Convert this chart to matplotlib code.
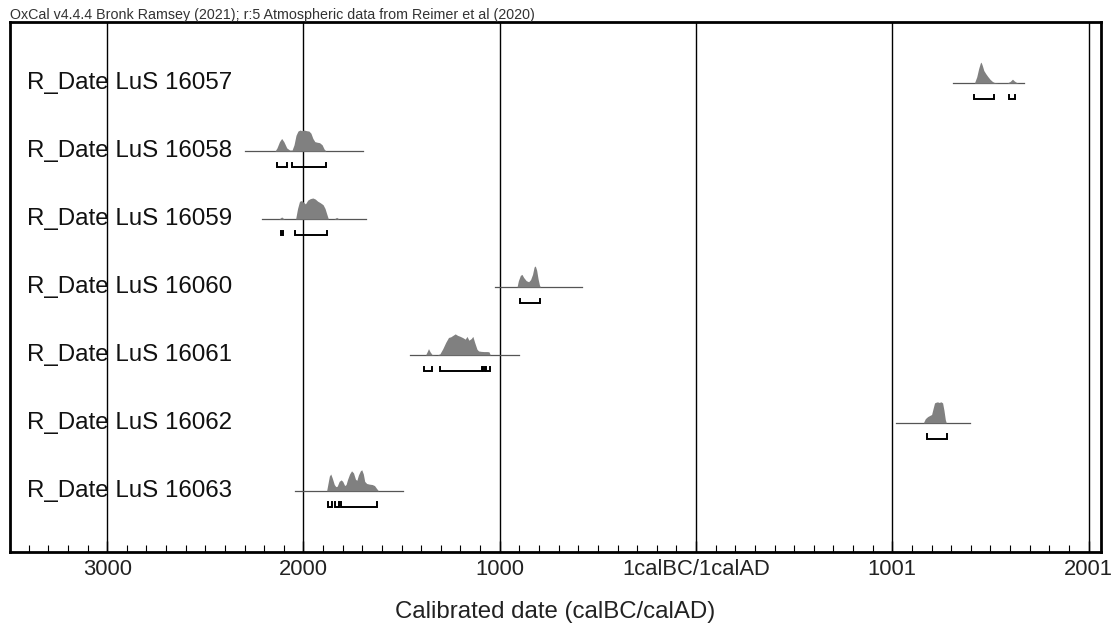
import matplotlib
matplotlib.use("Agg")
import matplotlib.pyplot as plt
from matplotlib.ticker import FixedLocator, MultipleLocator

plt.rcParams['font.family'] = ['Liberation Sans', 'DejaVu Sans']

# ---------------- data ----------------
labels = ["R_Date LuS 16057", "R_Date LuS 16058", "R_Date LuS 16059",
          "R_Date LuS 16060", "R_Date LuS 16061", "R_Date LuS 16062",
          "R_Date LuS 16063"]

# extent of the thin horizontal line of each date (years, BC negative)
line_ranges = [(1307, 1671), (-2298, -1696), (-2213, -1681), (-1023, -581),
               (-1457, -904), (1018, 1397), (-2043, -1491)]

# probability distribution shapes: years and relative heights
dist_years = [
    [1418, 1430, 1440, 1448, 1452, 1458, 1466, 1476, 1486, 1498, 1510, 1520,
     1540, 1585, 1600, 1612, 1622, 1635, 1645],
    [-2145, -2135, -2122, -2111, -2100, -2085, -2070, -2058, -2048, -2038,
     -2028, -2018, -2008, -1998, -1985, -1972, -1962, -1952, -1942, -1930,
     -1918, -1905, -1895, -1885],
    [-2125, -2111, -2098, -2040, -2030, -2020, -2010, -2000, -1990, -1978,
     -1965, -1952, -1940, -1928, -1915, -1900, -1890, -1880, -1873, -1845,
     -1831, -1818],
    [-912, -905, -895, -887, -878, -865, -853, -843, -833, -825, -819, -812,
     -805, -798, -793],
    [-1378, -1370, -1363, -1355, -1345, -1320, -1305, -1290, -1275, -1261,
     -1250, -1240, -1227, -1215, -1201, -1188, -1176, -1167, -1157, -1145,
     -1137, -1128, -1116, -1108, -1095, -1080, -1065, -1055, -1048],
    [1158, 1168, 1180, 1190, 1200, 1208, 1215, 1222, 1230, 1238, 1248, 1256,
     1263, 1270, 1275],
    [-1882, -1875, -1868, -1861, -1853, -1843, -1835, -1828, -1818, -1808,
     -1800, -1790, -1783, -1775, -1765, -1755, -1745, -1735, -1728, -1720,
     -1710, -1703, -1695, -1688, -1678, -1665, -1650, -1638, -1628, -1618],
]
dist_heights = [
    [0, 0.3, 0.7, 0.95, 1.0, 0.85, 0.6, 0.45, 0.32, 0.18, 0.08, 0.03,
     0.01, 0.01, 0.08, 0.19, 0.1, 0.02, 0],
    [0, 0.15, 0.45, 0.6, 0.45, 0.15, 0.05, 0.05, 0.3, 0.75,
     0.95, 1.0, 0.97, 1.0, 0.97, 0.95, 0.85, 0.6, 0.45, 0.42,
     0.4, 0.3, 0.1, 0],
    [0, 0.1, 0, 0, 0.5, 0.84, 0.88, 0.8, 0.72, 0.9,
     0.97, 1.0, 0.95, 0.85, 0.78, 0.68, 0.5, 0.2, 0, 0,
     0.08, 0],
    [0, 0.3, 0.55, 0.6, 0.45, 0.3, 0.25, 0.35, 0.6, 0.95, 1.0, 0.8,
     0.4, 0.1, 0],
    [0, 0.15, 0.3, 0.15, 0.02, 0, 0.05, 0.3, 0.6, 0.83,
     0.86, 0.92, 1.0, 0.93, 0.88, 0.82, 0.75, 0.88, 0.7, 0.78,
     0.88, 0.6, 0.27, 0.19, 0.17, 0.16, 0.16, 0.15, 0],
    [0, 0.2, 0.3, 0.35, 0.4, 0.7, 0.95, 0.98, 1.0, 0.97, 1.0, 0.95,
     0.6, 0.15, 0],
    [0, 0.35, 0.7, 0.8, 0.6, 0.3, 0.2, 0.22, 0.45, 0.52,
     0.45, 0.25, 0.3, 0.55, 0.8, 0.95, 0.85, 0.55, 0.5, 0.75,
     0.95, 1.0, 0.8, 0.45, 0.35, 0.32, 0.3, 0.25, 0.12, 0],
]

# 95.4% highest posterior density ranges
hpd_ranges = [
    [(1416, 1518), (1594, 1625)],
    [(-2137, -2083), (-2060, -1885)],
    [(-2113, -2106), (-2043, -1879)],
    [(-899, -797)],
    [(-1384, -1346), (-1304, -1091), (-1087, -1074), (-1069, -1048)],
    [(1176, 1277)],
    [(-1877, -1856), (-1839, -1818), (-1809, -1627)],
]

major_ticks = [-3000, -2000, -1000, 0, 1000, 2000]
major_labels = ["3000", "2000", "1000", "1calBC/1calAD", "1001", "2001"]

title = "OxCal v4.4.4 Bronk Ramsey (2021); r:5 Atmospheric data from Reimer et al (2020)"
xlabel = "Calibrated date (calBC/calAD)"

# ---------------- plot ----------------
W, H = 1114, 628
fig = plt.figure(figsize=(W / 100, H / 100), dpi=100)
ax = fig.add_axes([10 / W, (H - 552) / H, 1091 / W, 530 / H])

xmin, xmax = -3495, 2063
ax.set_xlim(xmin, xmax)
ax.set_ylim(6.9, -0.9)

hscale = 0.31      # height of a full-probability peak in row units
boff = 0.235       # offset of hpd bracket below baseline
bh = 0.065         # bracket end height

for g in major_ticks:
    ax.axvline(g, color='black', lw=1.0, zorder=1)

for i, lab in enumerate(labels):
    ax.text((27 - 10) / 1091, i, lab, transform=ax.get_yaxis_transform(),
            ha='left', va='center', fontsize=17.4, color='#111111', zorder=2)
    x0, x1 = line_ranges[i]
    ax.plot([x0, x1], [i, i], color='#555555', lw=0.9, zorder=3)
    ys = [i - h * hscale for h in dist_heights[i]]
    ax.fill_between(dist_years[i], i, ys, color='#808080', lw=0, zorder=4)
    for a, b in hpd_ranges[i]:
        yb = i + boff
        ax.plot([a, a, b, b], [yb - bh, yb, yb, yb - bh], color='black',
                lw=1.4, solid_joinstyle='miter', zorder=5)

# y axis hidden
ax.set_yticks([])
ax.xaxis.set_major_locator(FixedLocator(major_ticks))
ax.set_xticklabels(major_labels, fontsize=15.8, color='#222222')
ax.xaxis.set_minor_locator(MultipleLocator(100))
ax.tick_params(axis='x', which='major', direction='in', length=8, width=1,
               pad=5, top=False)
ax.tick_params(axis='x', which='minor', direction='in', length=5, width=0.8,
               top=False)
for s in ax.spines.values():
    s.set_linewidth(2.0)
    s.set_color('black')

ax.set_xlabel(xlabel, fontsize=17.3, color='#222222', labelpad=15)

fig.text(10 / W, 1 - 15 / H, title, ha='left', va='center', fontsize=10.3,
         color='#333333')

fig.savefig("out.png", dpi=100)
